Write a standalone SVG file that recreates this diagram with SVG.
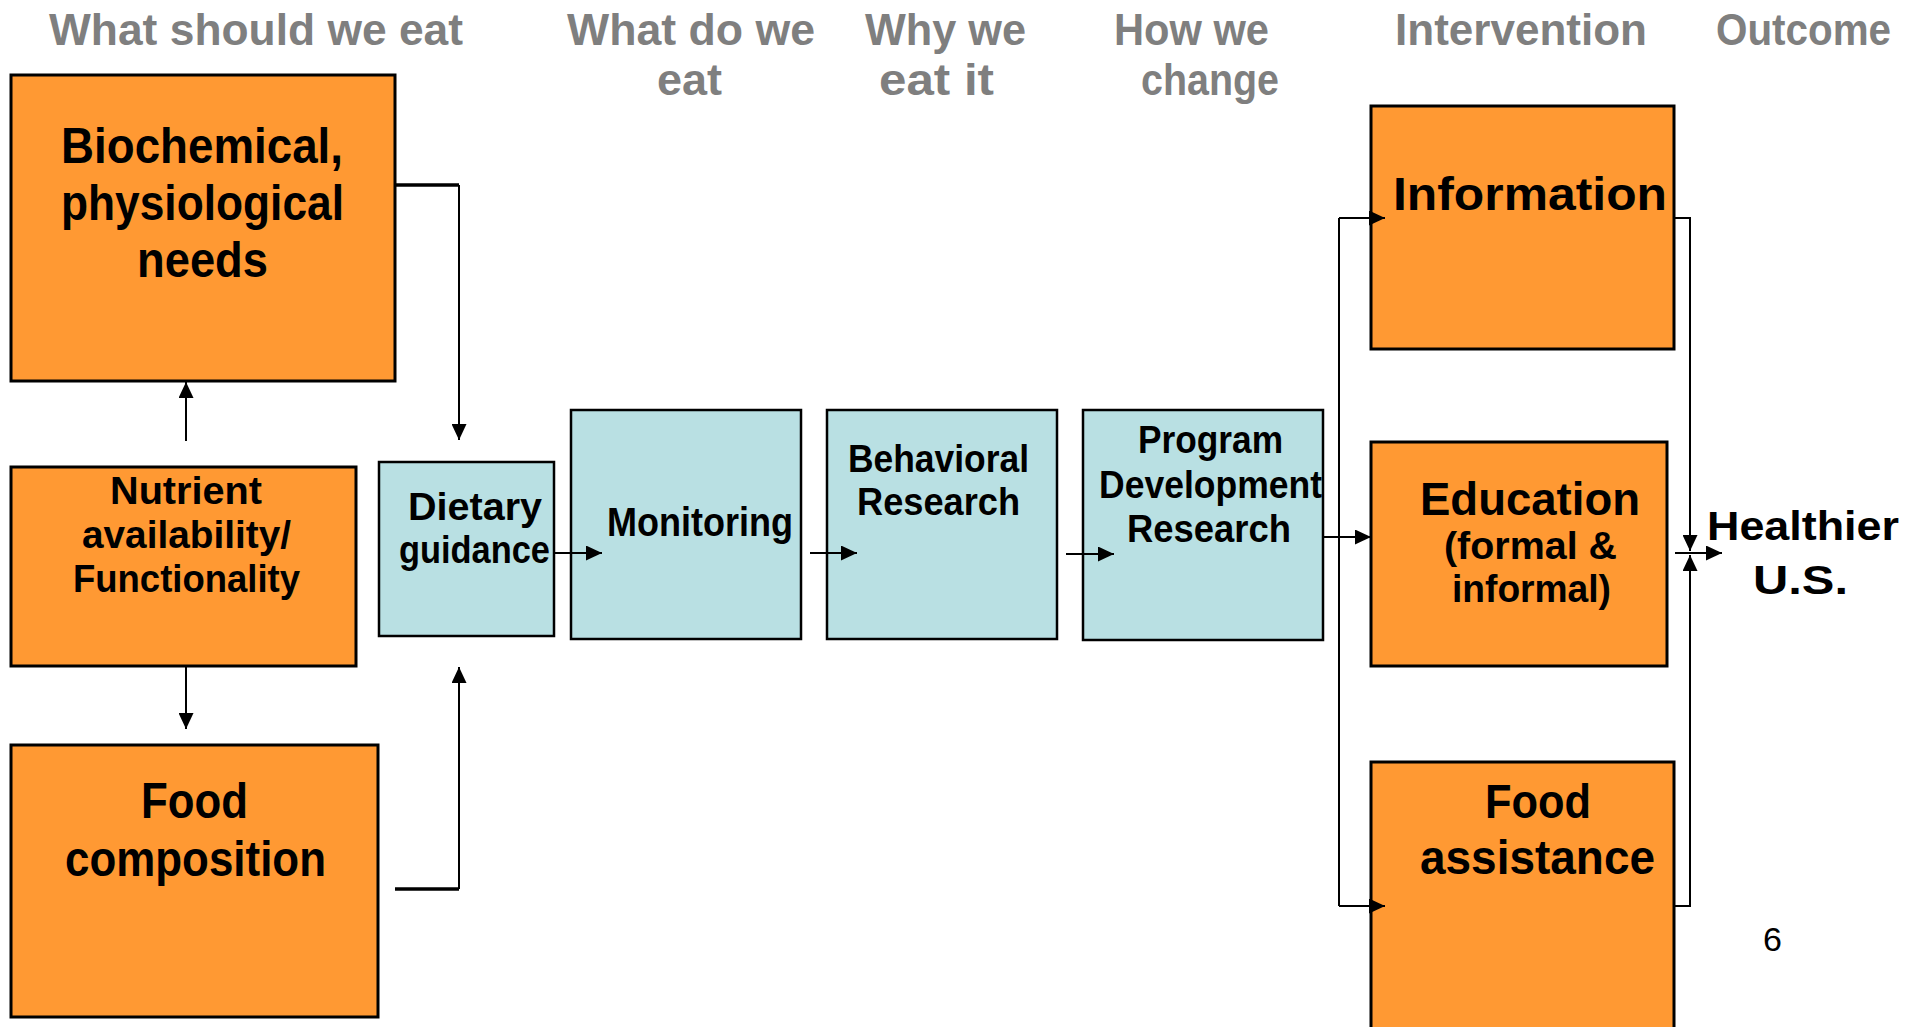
<svg xmlns="http://www.w3.org/2000/svg" width="1919" height="1027" viewBox="0 0 1919 1027">
  <style>
    text { font-family: "Liberation Sans", Arial, sans-serif; font-weight: bold; }
    .hdr { fill: #7f7f7f; font-size: 44px; }
    .lbl { fill: #000000; }
    .big { font-size: 50px; }
    .mid { font-size: 38px; }
    .orange { fill: #FF9933; stroke: #000000; stroke-width: 3; }
    .blue { fill: #B9E0E3; stroke: #000000; stroke-width: 2.5; }
    .conn { fill: none; stroke: #000000; stroke-width: 2; }
    .thick { fill: none; stroke: #000000; stroke-width: 3.5; }
    .num { font-family: "Liberation Sans", Arial, sans-serif; font-weight: normal; font-size: 34px; fill: #000000; }
  </style>
  <defs>
    <marker id="arrow" markerUnits="userSpaceOnUse" markerWidth="17" markerHeight="15" refX="16" refY="7.5" orient="auto">
      <path d="M0,0 L16,7.5 L0,15 z" fill="#000000"/>
    </marker>
  </defs>

  <rect width="1919" height="1027" fill="#ffffff"/>

  <!-- column headings -->
  <g id="headings">
    <text class="hdr" x="49" y="45" textLength="414" lengthAdjust="spacingAndGlyphs">What should we eat</text>
    <text class="hdr" x="567" y="45" textLength="248" lengthAdjust="spacingAndGlyphs">What do we</text>
    <text class="hdr" x="657" y="95" textLength="65" lengthAdjust="spacingAndGlyphs">eat</text>
    <text class="hdr" x="865" y="45" textLength="161" lengthAdjust="spacingAndGlyphs">Why we</text>
    <text class="hdr" x="879" y="95" textLength="115" lengthAdjust="spacingAndGlyphs">eat it</text>
    <text class="hdr" x="1114" y="45" textLength="155" lengthAdjust="spacingAndGlyphs">How we</text>
    <text class="hdr" x="1141" y="95" textLength="138" lengthAdjust="spacingAndGlyphs">change</text>
    <text class="hdr" x="1395" y="45" textLength="252" lengthAdjust="spacingAndGlyphs">Intervention</text>
    <text class="hdr" x="1716" y="45" textLength="175" lengthAdjust="spacingAndGlyphs">Outcome</text>
  </g>

  <g id="biochemical">
    <rect class="orange" x="11" y="75" width="384" height="306"/>
    <text class="lbl big" x="61" y="163" textLength="282" lengthAdjust="spacingAndGlyphs">Biochemical,</text>
    <text class="lbl big" x="61" y="220" textLength="283" lengthAdjust="spacingAndGlyphs">physiological</text>
    <text class="lbl big" x="137" y="277" textLength="131" lengthAdjust="spacingAndGlyphs">needs</text>
  </g>

  <g id="nutrient">
    <rect class="orange" x="11" y="467" width="345" height="199"/>
    <text class="lbl mid" x="110" y="504" textLength="152" lengthAdjust="spacingAndGlyphs">Nutrient</text>
    <text class="lbl mid" x="82" y="548" textLength="209" lengthAdjust="spacingAndGlyphs">availability/</text>
    <text class="lbl mid" x="73" y="592" textLength="227" lengthAdjust="spacingAndGlyphs">Functionality</text>
  </g>

  <g id="food-composition">
    <rect class="orange" x="11" y="745" width="367" height="272"/>
    <text class="lbl big" x="141" y="818" textLength="107" lengthAdjust="spacingAndGlyphs">Food</text>
    <text class="lbl big" x="65" y="876" textLength="261" lengthAdjust="spacingAndGlyphs">composition</text>
  </g>

  <g id="dietary-guidance">
    <rect class="blue" x="379" y="462" width="175" height="174"/>
    <text class="lbl mid" x="408" y="520" textLength="134" lengthAdjust="spacingAndGlyphs">Dietary</text>
    <text class="lbl mid" x="399" y="563" textLength="151" lengthAdjust="spacingAndGlyphs">guidance</text>
  </g>

  <g id="monitoring">
    <rect class="blue" x="571" y="410" width="230" height="229"/>
    <text class="lbl" style="font-size:40px" x="607" y="536" textLength="186" lengthAdjust="spacingAndGlyphs">Monitoring</text>
  </g>

  <g id="behavioral-research">
    <rect class="blue" x="827" y="410" width="230" height="229"/>
    <text class="lbl mid" x="848" y="472" textLength="181" lengthAdjust="spacingAndGlyphs">Behavioral</text>
    <text class="lbl mid" x="857" y="515" textLength="163" lengthAdjust="spacingAndGlyphs">Research</text>
  </g>

  <g id="program-development">
    <rect class="blue" x="1083" y="410" width="240" height="230"/>
    <text class="lbl mid" x="1138" y="453" textLength="145" lengthAdjust="spacingAndGlyphs">Program</text>
    <text class="lbl mid" x="1099" y="498" textLength="223" lengthAdjust="spacingAndGlyphs">Development</text>
    <text class="lbl mid" x="1127" y="542" textLength="164" lengthAdjust="spacingAndGlyphs">Research</text>
  </g>

  <g id="information">
    <rect class="orange" x="1371" y="106" width="303" height="243"/>
    <text class="lbl" style="font-size:46px" x="1393" y="210" textLength="274" lengthAdjust="spacingAndGlyphs">Information</text>
  </g>

  <g id="education">
    <rect class="orange" x="1371" y="442" width="296" height="224"/>
    <text class="lbl" style="font-size:46px" x="1420" y="515" textLength="220" lengthAdjust="spacingAndGlyphs">Education</text>
    <text class="lbl mid" x="1444" y="559" textLength="173" lengthAdjust="spacingAndGlyphs">(formal &amp;</text>
    <text class="lbl mid" x="1452" y="602" textLength="159" lengthAdjust="spacingAndGlyphs">informal)</text>
  </g>

  <g id="food-assistance">
    <rect class="orange" x="1371" y="762" width="303" height="280"/>
    <text class="lbl" style="font-size:48px" x="1485" y="818" textLength="106" lengthAdjust="spacingAndGlyphs">Food</text>
    <text class="lbl" style="font-size:48px" x="1420" y="874" textLength="235" lengthAdjust="spacingAndGlyphs">assistance</text>
  </g>

  <g id="healthier-us">
    <text class="lbl" style="font-size:40px" x="1707" y="540" textLength="192" lengthAdjust="spacingAndGlyphs">Healthier</text>
    <text class="lbl" style="font-size:40px" x="1753" y="594" textLength="95" lengthAdjust="spacingAndGlyphs">U.S.</text>
  </g>

  <!-- connectors drawn above the boxes so arrowheads overlap box edges -->
  <g id="connectors">
    <line class="thick" x1="395" y1="185" x2="459" y2="185"/>
    <path class="conn" d="M459,185 V440" marker-end="url(#arrow)"/>
    <line class="thick" x1="395" y1="889" x2="459" y2="889"/>
    <path class="conn" d="M459,889 V667" marker-end="url(#arrow)"/>
    <path class="conn" d="M186,441 V382" marker-end="url(#arrow)"/>
    <path class="conn" d="M186,667 V729" marker-end="url(#arrow)"/>
    <path class="conn" d="M554,553 H602" marker-end="url(#arrow)"/>
    <path class="conn" d="M810,553 H857" marker-end="url(#arrow)"/>
    <path class="conn" d="M1066,554 H1114" marker-end="url(#arrow)"/>
    <path class="conn" d="M1323,537 H1371" marker-end="url(#arrow)"/>
    <path class="conn" d="M1339,218 V906"/>
    <path class="conn" d="M1339,218 H1385" marker-end="url(#arrow)"/>
    <path class="conn" d="M1339,906 H1385" marker-end="url(#arrow)"/>
    <path class="conn" d="M1674,218 H1690 V551" marker-end="url(#arrow)"/>
    <path class="conn" d="M1674,906 H1690 V555" marker-end="url(#arrow)"/>
    <path class="conn" d="M1675,553 H1722" marker-end="url(#arrow)"/>
  </g>

  <text class="num" x="1763" y="951">6</text>
</svg>
